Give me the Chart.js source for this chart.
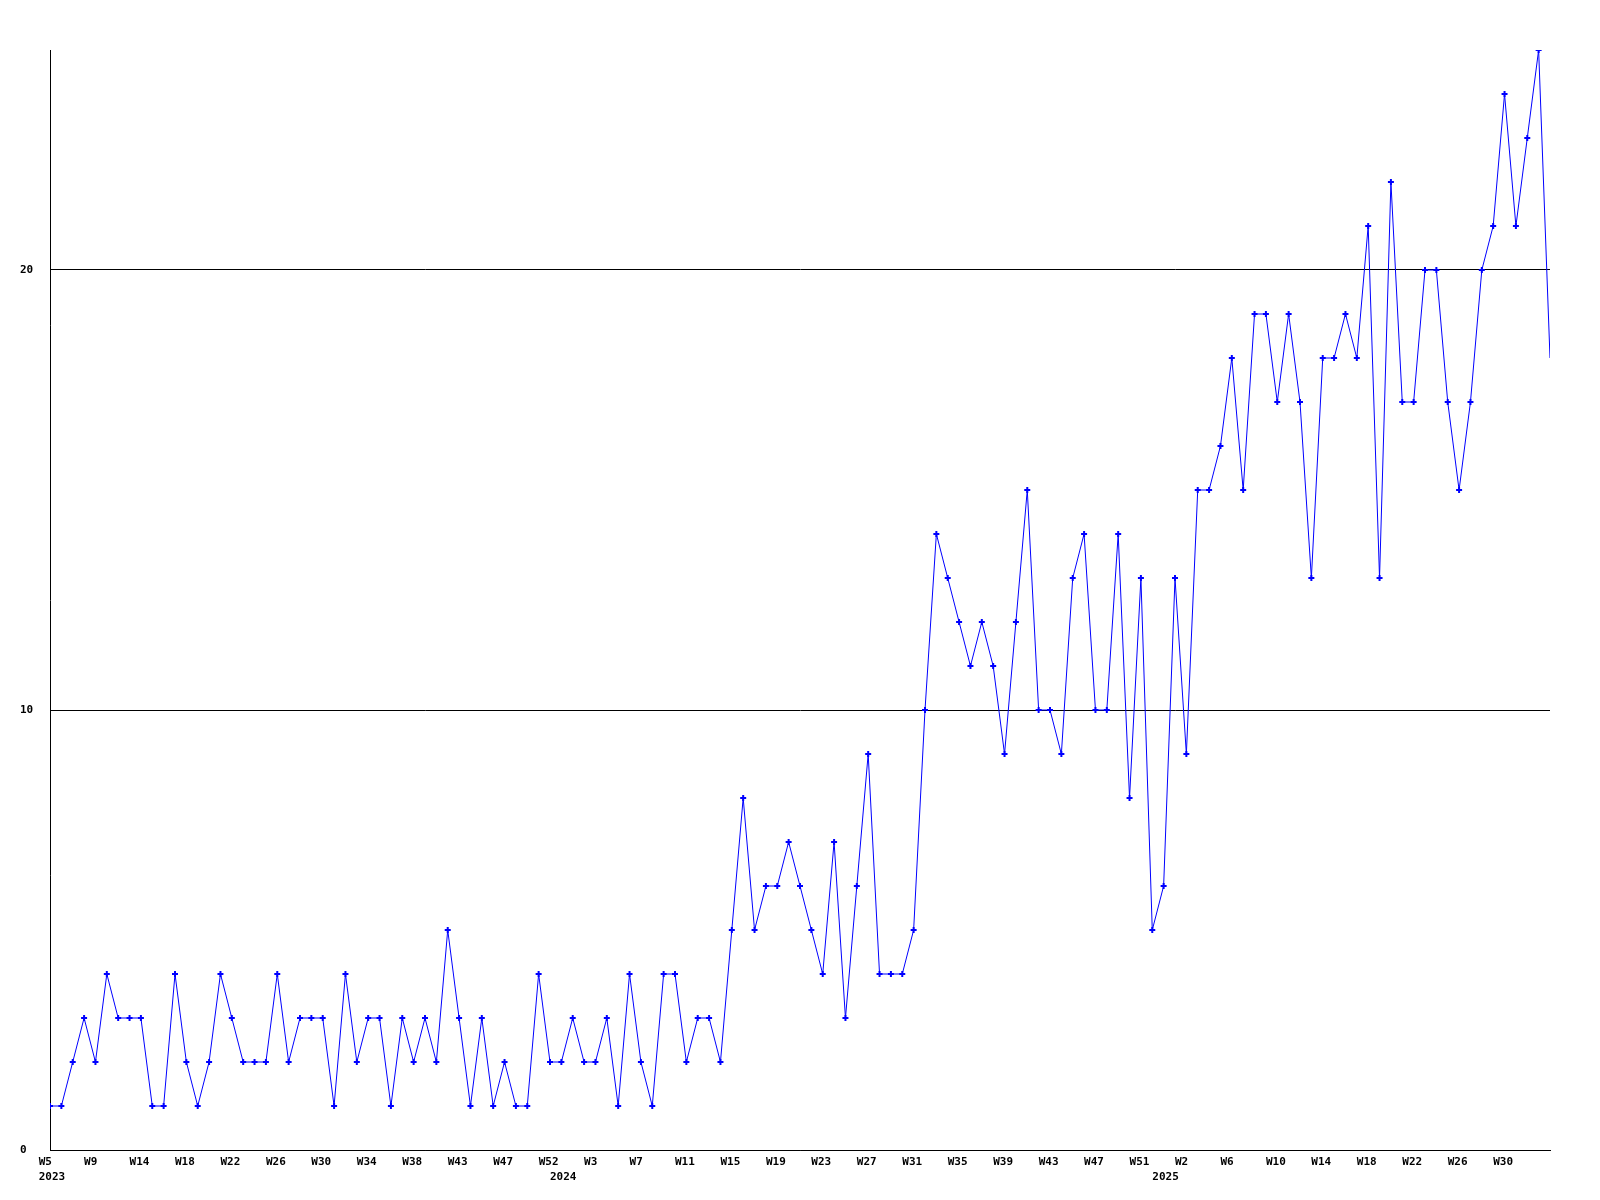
<!DOCTYPE html>
<html>
<head>
<meta charset="utf-8">
<script src="https://cdn.jsdelivr.net/npm/chart.js@4.4.1/dist/chart.umd.min.js"></script>
<style>
  body { margin: 0; background: #fff; }
</style>
</head>
<body>
<canvas id="weekChart" width="1600" height="1200"></canvas>
<script>
// weekly counts, 2023 W5 .. 2025 W33
const counts = [
  1,1,2,3,2,4,3,3,3,1,1,4,2,1,2,4,3,2,2,2,4,2,3,3,3,1,4,2,3,3,1,3,
  2,3,2,5,3,1,3,1,2,1,1,4,2,2,3,2,2,3,1,4,2,1,4,4,2,3,3,2,5,8,5,
  6,6,7,6,5,4,7,3,6,9,4,4,4,5,
  10,14,13,12,11,12,11,9,12,15,10,10,9,13,14,10,10,14,8,13,5,6,13,9,15,15,
  16,18,15,19,19,17,19,17,13,18,18,19,18,
  21,13,22,17,17,20,20,17,15,17,20,21,24,21,23,25,18
];

const weekTicks = ['W5','W9','W14','W18','W22','W26','W30','W34','W38','W43','W47','W52',
  'W3','W7','W11','W15','W19','W23','W27','W31','W35','W39','W43','W47','W51',
  'W2','W6','W10','W14','W18','W22','W26','W30'];

const yearLabels = ['2023', '2024', '2025'];
const yearWeekIndex = [-1, 44, 97];

const labelFont = { family: 'DejaVu Sans Mono', size: 11, weight: 'bold' };

const ctx = document.getElementById('weekChart').getContext('2d');
const weekChart = new Chart(ctx, {
  type: 'line',
  data: {
    datasets: [{
      data: counts.map((v, i) => ({ x: i, y: v })),
      borderColor: '#0000ff',
      borderWidth: 1,
      tension: 0,
      pointStyle: 'cross',
      // the last week runs off the edge, no marker there
      pointRadius: counts.map((v, i) => i === counts.length - 1 ? 0 : 3),
      pointBorderWidth: 2,
      pointBorderColor: '#0000ff',
      fill: false
    }]
  },
  options: {
    responsive: false,
    animation: false,
    layout: { padding: { left: 20, top: 50, right: 50, bottom: 18 } },
    scales: {
      x: {
        type: 'linear',
        position: 'bottom',
        min: 0,
        max: counts.length - 1,
        grid: { display: false, drawTicks: false },
        border: { display: true, color: '#000', width: 1 },
        afterBuildTicks: (scale) => {
          scale.ticks = weekTicks.map((t, i) => ({ value: i * 4 - 1 }));
        },
        afterFit: (scale) => { scale.height = 16; },
        ticks: {
          autoSkip: false,
          maxRotation: 0,
          align: 'start',
          padding: 6,
          color: '#000',
          font: labelFont,
          callback: (val, idx) => weekTicks[idx]
        }
      },
      years: {
        type: 'linear',
        position: 'bottom',
        min: 0,
        max: counts.length - 1,
        grid: { display: false, drawTicks: false },
        border: { display: false },
        afterBuildTicks: (scale) => {
          scale.ticks = yearWeekIndex.map(v => ({ value: v }));
        },
        afterFit: (scale) => { scale.height = 16; },
        ticks: {
          autoSkip: false,
          maxRotation: 0,
          align: 'start',
          padding: 5,
          color: '#000',
          font: labelFont,
          callback: (val, idx) => yearLabels[idx]
        }
      },
      y: {
        min: 0,
        max: 25,
        grid: { color: '#000', lineWidth: 1, drawTicks: false },
        border: { display: true, color: '#000', width: 1 },
        afterFit: (scale) => { scale.width = 30; },
        ticks: {
          stepSize: 10,
          includeBounds: false,
          crossAlign: 'far',
          color: '#000',
          font: labelFont
        }
      }
    },
    plugins: {
      legend: { display: false },
      tooltip: { enabled: false }
    }
  }
});
</script>
</body>
</html>
